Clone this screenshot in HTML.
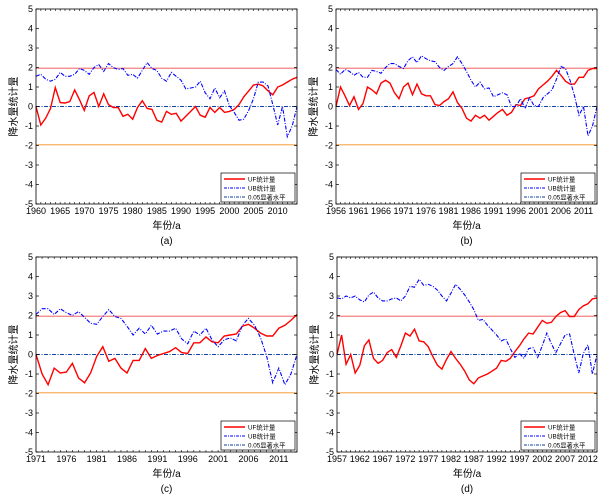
<!DOCTYPE html>
<html><head><meta charset="utf-8"><style>
html,body{margin:0;padding:0;background:#fff;width:605px;height:496px;overflow:hidden}
svg text{font-family:"Liberation Sans","Noto Sans CJK SC",sans-serif;fill:#000}
</style></head><body>
<svg id="chart" width="605" height="496" xmlns="http://www.w3.org/2000/svg"></svg>
<script>
const startA = 1960, endA = 2014;
const ufA = [0,-0.95,-0.6,-0.1,0.97,0.2,0.18,0.25,0.85,0.35,-0.2,0.55,0.72,0,0.65,0.1,-0.05,-0.05,-0.5,-0.4,-0.65,-0.05,0.3,-0.1,-0.15,-0.7,-0.8,-0.25,-0.4,-0.35,-0.75,-0.5,-0.25,0,-0.45,-0.55,-0.05,-0.3,-0.05,-0.3,-0.25,-0.15,0.1,0.5,0.8,1.1,1.15,1.05,0.8,0.6,1.0,1.1,1.25,1.4,1.5];
const ubA = [1.55,1.65,1.4,1.3,1.4,1.75,1.55,1.55,1.65,1.95,1.85,1.65,2.0,2.15,1.8,2.2,2.0,1.9,1.95,1.6,1.65,1.45,1.85,2.25,1.95,1.85,1.45,1.3,1.75,1.55,1.35,0.9,0.95,1.0,1.3,0.7,0.4,0.95,0.45,0.8,0.05,-0.3,-0.7,-0.65,-0.2,0.4,1.25,1.25,1.05,0.1,-0.95,0,-1.55,-1.0,0];
const startB = 1956, endB = 2014;
const ufB = [0,1.0,0.55,0.05,0.5,-0.15,0.15,1.0,0.85,0.65,1.2,1.35,1.2,0.7,0.4,1.0,1.2,0.6,1.15,0.65,0.55,0.55,0.1,0.05,0.25,0.4,0.75,0.2,-0.1,-0.6,-0.75,-0.45,-0.6,-0.45,-0.7,-0.5,-0.3,-0.15,-0.45,-0.3,0.1,0.05,0.4,0.45,0.55,0.9,1.1,1.3,1.55,1.85,1.6,1.3,1.15,1.15,1.5,1.5,1.85,1.95,1.95];
const ubB = [1.9,1.65,1.9,1.8,1.6,1.75,1.5,1.5,1.85,1.8,1.7,2.0,2.2,2.2,2.05,1.95,2.35,2.55,2.25,2.6,2.45,2.35,2.3,2.0,1.85,2.05,2.2,2.55,2.2,1.8,1.35,1.0,1.25,0.9,0.95,0.5,0.6,0.7,0.6,0,0,0.4,-0.1,0.45,0.05,0,0.45,0.65,0.85,1.4,2.05,1.95,1.35,0.55,-0.45,0,-1.5,-1.0,0];
const startC = 1971, endC = 2014;
const ufC = [0,-1.0,-1.55,-0.7,-0.95,-0.9,-0.45,-1.2,-1.45,-0.95,-0.1,0.4,-0.35,-0.2,-0.7,-0.95,-0.3,-0.3,0.3,-0.2,-0.05,0.05,0.15,0.35,0.1,0.05,0.6,0.6,0.9,0.65,0.6,0.95,1.0,1.05,1.45,1.55,1.35,1.1,0.95,0.95,1.35,1.5,1.75,2.05];
const ubC = [2.05,2.35,2.35,2.05,2.35,2.15,2.0,2.2,1.9,1.6,1.55,1.95,2.3,1.95,1.85,1.45,1.0,1.35,1.05,1.5,1.05,1.2,1.2,1.35,0.8,0.55,1.2,1.0,1.35,0.75,0.4,0.75,0.85,0.7,1.5,1.85,1.5,0.85,-0.1,-1.45,-0.7,-1.55,-1.0,0];
const startD = 1957, endD = 2014;
const ufD = [0,1.0,-0.5,0,-0.95,-0.55,0.45,0.75,-0.2,-0.45,-0.3,0.1,0.25,-0.15,0.45,1.1,0.95,1.3,0.7,0.65,0.4,-0.1,-0.55,-0.75,-0.25,0.15,-0.2,-0.5,-0.85,-1.3,-1.5,-1.2,-1.1,-1.0,-0.85,-0.7,-0.3,-0.35,-0.2,0.15,0.45,0.8,1.1,1.05,1.4,1.75,1.6,1.65,1.95,2.15,2.25,1.95,1.95,2.3,2.5,2.6,2.85,2.9];
const ubD = [2.9,2.85,3.0,2.9,3.0,2.8,2.7,3.05,3.2,2.9,2.75,2.75,2.85,2.9,2.75,3.0,3.5,3.45,3.85,3.55,3.6,3.5,3.3,3.0,2.75,3.15,3.6,3.35,3.05,2.7,2.3,1.75,1.8,1.5,1.25,1.0,0.7,0.8,0.3,-0.15,0.05,-0.2,0.3,0.35,-0.15,0.45,1.1,0.55,0.1,0.55,1.0,1.05,0,-0.95,0.05,0.5,-1.0,0];
const yTicks = [-5,-4,-3,-2,-1,0,1,2,3,4,5];
const sigLevel = 1.96;

const NS = "http://www.w3.org/2000/svg";
const svg = document.getElementById('chart');
function mk(tag, attrs, parent){ const e=document.createElementNS(NS,tag); for(const k in attrs) e.setAttribute(k,attrs[k]); (parent||svg).appendChild(e); return e; }

function panel(id, L, R, T, B, start, end, uf, ub, label){
  const g = mk('g',{});
  
  
  const x = yr => L + (yr-start)/(end-start)*(R-L);
  const y = v => T + (5-v)/10*(B-T);
  // significance lines
  const up = mk('line',{x1:L,x2:R,y1:y(sigLevel),y2:y(sigLevel),stroke:'#f08080','stroke-width':1.3},g);
  
  
  const lo = mk('line',{x1:L,x2:R,y1:y(-sigLevel),y2:y(-sigLevel),stroke:'#f5b060','stroke-width':1.3},g);
  
  
  const z = mk('line',{x1:L,x2:R,y1:y(0),y2:y(0),stroke:'#1040a0','stroke-width':1,'stroke-dasharray':'4,1.5,1,1.5'},g);
  
  
  // series
  const ptsUF = uf.map((v,i)=>x(start+i).toFixed(1)+','+y(v).toFixed(1)).join(' ');
  const pUF = mk('polyline',{points:ptsUF,fill:'none',stroke:'#ff0000','stroke-width':1.4},g);
  
  
  const ptsUB = ub.map((v,i)=>x(start+i).toFixed(1)+','+y(v).toFixed(1)).join(' ');
  const pUB = mk('polyline',{points:ptsUB,fill:'none',stroke:'#0000ff','stroke-width':1.1,'stroke-dasharray':'4,1.5,1,1.5'},g);
  
  
  // frame
  const fr = mk('rect',{x:L,y:T,width:R-L,height:B-T,fill:'none',stroke:'#000','stroke-width':0.8},g);
  
  
  // y ticks
  yTicks.forEach(t=>{
    mk('line',{x1:L,x2:L+3,y1:y(t),y2:y(t),stroke:'#000','stroke-width':0.7},g);
    mk('line',{x1:R,x2:R-3,y1:y(t),y2:y(t),stroke:'#000','stroke-width':0.7},g);
    const tx = mk('text',{x:L-3,y:y(t)+3,'font-size':9,'text-anchor':'end'},g);
    tx.textContent = t;
    
    
  });
  // x ticks
  for(let yr=start; yr<=end; yr++){
    mk('line',{x1:x(yr),x2:x(yr),y1:B,y2:B-2,stroke:'#000','stroke-width':0.6},g);
    mk('line',{x1:x(yr),x2:x(yr),y1:T,y2:T+2,stroke:'#000','stroke-width':0.6},g);
    if((yr-start)%5===0){
      const tx = mk('text',{x:x(yr),y:B+10,'font-size':9,'text-anchor':'middle'},g);
      tx.textContent = yr;
      
      
    }
  }
  const xt = mk('text',{x:(L+R)/2,y:B+25,'font-size':10,'text-anchor':'middle'},g);
  xt.textContent = '年份/a';
  
  
  const yt = mk('text',{x:0,y:0,'font-size':10,'text-anchor':'middle',transform:`translate(${L-19},${(T+B)/2}) rotate(-90)`},g);
  yt.textContent = '降水量统计量';
  
  
  const pl = mk('text',{x:(L+R)/2,y:B+40,'font-size':10,'text-anchor':'middle'},g);
  pl.textContent = label;
  
  
  // legend
  const lx = R-76, ly = B-31;
  const lg = mk('g',{},g);
  
  
  mk('rect',{x:lx,y:ly,width:74,height:29,fill:'#fff',stroke:'#000','stroke-width':0.7},lg);
  const entries = [['UF统计量','#ff0000','',1.4],['UB统计量','#0000ff','3,1,1,1',1],['0.05显著水平','#1040a0','3,1,1,1',1]];
  entries.forEach((e,i)=>{
    const yy = ly+6+i*9;
    const ln = mk('line',{x1:lx+3,x2:lx+24,y1:yy,y2:yy,stroke:e[1],'stroke-width':e[3],'stroke-dasharray':e[2]||'none'},lg);
    
    
    const t = mk('text',{x:lx+27,y:yy+2.3,'font-size':6.3},lg);
    t.textContent = e[0];
    
    
  });
}
panel('a',36,297,9,204,startA,endA,ufA,ubA,'(a)');
panel('b',336,597,9,204,startB,endB,ufB,ubB,'(b)');
panel('c',36,297,257,452,startC,endC,ufC,ubC,'(c)');
panel('d',337,597,257,452,startD,endD,ufD,ubD,'(d)');
</script>
</body></html>
